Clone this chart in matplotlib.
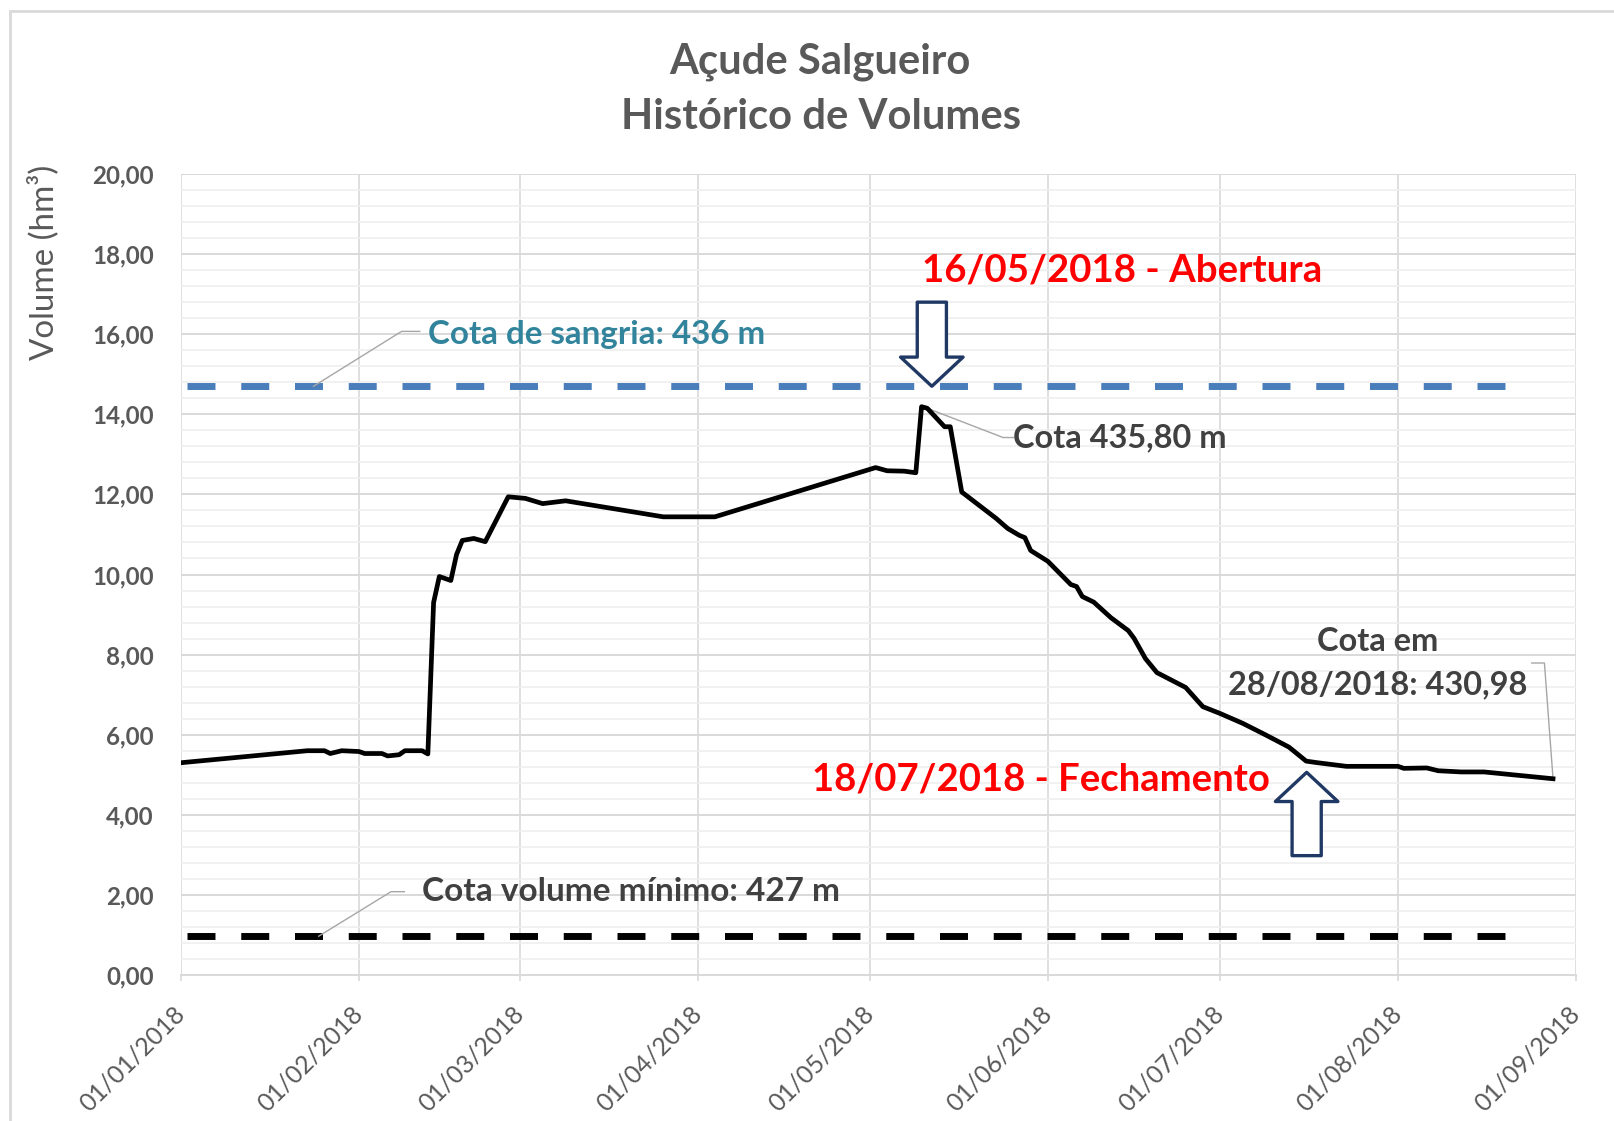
import matplotlib
matplotlib.use('Agg')
import matplotlib.pyplot as plt
import matplotlib.dates as mdates
import pandas as pd
from matplotlib.patches import Rectangle
from matplotlib.ticker import MultipleLocator, FuncFormatter, FixedLocator

plt.rcParams['font.family'] = ['Lato', 'DejaVu Sans']

# ---------------- data ----------------
dates = ['2018-01-01', '2018-01-23', '2018-01-26', '2018-01-27', '2018-01-29',
         '2018-02-01', '2018-02-02', '2018-02-05', '2018-02-06', '2018-02-08',
         '2018-02-09', '2018-02-12', '2018-02-13', '2018-02-14', '2018-02-15',
         '2018-02-17', '2018-02-18', '2018-02-19', '2018-02-21', '2018-02-23',
         '2018-02-27', '2018-03-02', '2018-03-05', '2018-03-09', '2018-03-26',
         '2018-04-04', '2018-05-02', '2018-05-04', '2018-05-07', '2018-05-09',
         '2018-05-10', '2018-05-11', '2018-05-14', '2018-05-15', '2018-05-17',
         '2018-05-21', '2018-05-23', '2018-05-25', '2018-05-27', '2018-05-28',
         '2018-05-29', '2018-06-01', '2018-06-05', '2018-06-06', '2018-06-07',
         '2018-06-09', '2018-06-12', '2018-06-15', '2018-06-16', '2018-06-18',
         '2018-06-20', '2018-06-25', '2018-06-28', '2018-07-01', '2018-07-05',
         '2018-07-09', '2018-07-13', '2018-07-16', '2018-07-18', '2018-07-23',
         '2018-08-01', '2018-08-02', '2018-08-06', '2018-08-08', '2018-08-12',
         '2018-08-16', '2018-08-28']
volumes = [5.30, 5.60, 5.60, 5.53, 5.60,
           5.58, 5.53, 5.53, 5.47, 5.50,
           5.60, 5.60, 5.52, 9.30, 9.95,
           9.85, 10.50, 10.85, 10.90, 10.82,
           11.94, 11.90, 11.77, 11.84, 11.44,
           11.44, 12.67, 12.59, 12.58, 12.54,
           14.19, 14.15, 13.69, 13.69, 12.06,
           11.62, 11.40, 11.15, 10.98, 10.92,
           10.60, 10.33, 9.75, 9.70, 9.45,
           9.31, 8.92, 8.60, 8.41, 7.90,
           7.55, 7.18, 6.70, 6.53, 6.28,
           5.99, 5.69, 5.34, 5.30, 5.21,
           5.21, 5.16, 5.17, 5.10, 5.07,
           5.07, 4.90]

sangria_value = 14.7
sangria_span = ['2018-01-02', '2018-08-19 14:00']
minimo_value = 0.97
minimo_span = ['2018-01-02', '2018-08-19 14:00']

month_ticks = pd.date_range('2018-01-01', '2018-09-01', freq='MS')
x_tick_labels = [d.strftime('%d/%m/%Y') for d in month_ticks]
y_ticks = [0, 2, 4, 6, 8, 10, 12, 14, 16, 18, 20]

title_lines = ['Açude Salgueiro', 'Histórico de Volumes']
y_label = 'Volume (hm³)'

# ---------------- figure ----------------
W, H = 1614, 1121
fig = plt.figure(figsize=(W / 100, H / 100), dpi=100)
ax = fig.add_axes([181 / W, 1 - 975 / H, (1576 - 181) / W, (975 - 174) / H])

def dn(s):
    return mdates.date2num(pd.Timestamp(s))

x = [dn(d) for d in dates]

ax.set_xlim(dn('2018-01-01'), dn('2018-09-01'))
ax.set_ylim(0, 20)

# grid
ax.yaxis.set_major_locator(FixedLocator(y_ticks))
ax.yaxis.set_minor_locator(MultipleLocator(0.4))
ax.xaxis.set_major_locator(FixedLocator([dn(d) for d in month_ticks]))
ax.set_xticklabels(x_tick_labels)
ax.yaxis.set_major_formatter(FuncFormatter(lambda v, p: f'{v:.2f}'.replace('.', ',')))
ax.grid(True, which='major', axis='y', color='#D9D9D9', lw=1.4, zorder=0)
ax.grid(True, which='minor', axis='y', color='#EFEFEF', lw=1.2, zorder=0)
ax.grid(True, which='major', axis='x', color='#D9D9D9', lw=1.2, zorder=0)
ax.set_axisbelow(True)
for s in ['top', 'right', 'left']:
    ax.spines[s].set_visible(False)
ax.spines['bottom'].set_color('#D9D9D9')
ax.spines['bottom'].set_linewidth(1.4)
ax.tick_params(axis='y', which='both', length=0, pad=19.5, labelcolor='#595959')
ax.tick_params(axis='x', which='major', length=4, width=1.2, color='#D9D9D9',
               direction='out', pad=21, labelcolor='#595959')

# lines
ax.plot(x, volumes, color='black', lw=3.4, solid_joinstyle='round', zorder=4)
l1, = ax.plot([dn(sangria_span[0]), dn(sangria_span[1])], [sangria_value] * 2,
              color='#4A7EBB', lw=5, zorder=3)
l1.set_dashes((4.03, 3.71))
l2, = ax.plot([dn(minimo_span[0]), dn(minimo_span[1])], [minimo_value] * 2,
              color='black', lw=5, zorder=3)
l2.set_dashes((4.03, 3.71))

# leader lines
leader_kw = dict(color='#A6A6A6', lw=1.0, zorder=3, clip_on=False)
ax.plot([dn('2018-01-24 02:00'), dn('2018-02-08 10:00'), dn('2018-02-11 14:00')],
        [sangria_value, 16.07, 16.07], **leader_kw)
ax.plot([dn('2018-05-11'), dn('2018-05-24 05:00'), dn('2018-05-26')],
        [14.15, 13.42, 13.42], **leader_kw)
ax.plot([dn('2018-08-28'), dn('2018-08-26 12:00'), dn('2018-08-24 07:00')],
        [4.90, 7.79, 7.79], **leader_kw)
ax.plot([dn('2018-01-25'), dn('2018-02-06 14:00'), dn('2018-02-08 22:00')],
        [minimo_value, 2.08, 2.08], **leader_kw)

# annotation texts
dark = '#404040'
t_sang = ax.text(dn('2018-02-13'), 16.0, 'Cota de sangria: 436 m', color='#31849B',
                 fontweight='bold', ha='left', va='center', fontsize=20, zorder=6)
t_ab = ax.text(dn('2018-05-10'), 17.58, '16/05/2018 - Abertura', color='#FF0000',
               fontweight='bold', ha='left', va='center', fontsize=26, zorder=6)
t_c1 = ax.text(dn('2018-05-26'), 13.42, 'Cota 435,80 m', color=dark,
               fontweight='bold', ha='left', va='center', fontsize=20, zorder=6)
t_em1 = ax.text(dn('2018-07-28 12:00'), 8.33, 'Cota em', color=dark,
                fontweight='bold', ha='center', va='center', fontsize=20, zorder=6)
t_em2 = ax.text(dn('2018-07-28 12:00'), 7.25, '28/08/2018: 430,98', color=dark,
                fontweight='bold', ha='center', va='center', fontsize=20, zorder=6)
t_fe = ax.text(dn('2018-04-21'), 4.88, '18/07/2018 - Fechamento', color='#FF0000',
               fontweight='bold', ha='left', va='center', fontsize=26, zorder=6)
t_min = ax.text(dn('2018-02-12'), 2.08, 'Cota volume mínimo: 427 m', color=dark,
                fontweight='bold', ha='left', va='center', fontsize=20, zorder=6)

# hollow block arrows
arrow_style = 'simple,head_length=2.1,head_width=4.5,tail_width=2.1'
ax.annotate('', xy=(dn('2018-05-11 19:00'), 14.7), xytext=(dn('2018-05-11 19:00'), 16.8),
            arrowprops=dict(arrowstyle=arrow_style, mutation_scale=10, fc='white',
                            ec='#203864', lw=2.4, shrinkA=0, shrinkB=0), zorder=7)
ax.annotate('', xy=(dn('2018-07-16 02:00'), 5.06), xytext=(dn('2018-07-16 02:00'), 2.98),
            arrowprops=dict(arrowstyle=arrow_style, mutation_scale=10, fc='white',
                            ec='#203864', lw=2.4, shrinkA=0, shrinkB=0), zorder=7)

# titles
t_tit1 = fig.text(820 / W, 1 - 62 / H, title_lines[0], ha='center', va='center',
                  fontweight='bold', color='#595959', fontsize=25)
t_tit2 = fig.text(821 / W, 1 - 117 / H, title_lines[1], ha='center', va='center',
                  fontweight='bold', color='#595959', fontsize=25)
t_yl = fig.text(43 / W, 1 - 262 / H, y_label, rotation=90, ha='center', va='center',
                color='#595959', fontsize=18)

# chart border
fig.add_artist(Rectangle((10 / W, -0.05), 1.2, 1 - 11 / H + 0.05, transform=fig.transFigure,
                         fill=False, ec='#D9D9D9', lw=2))

# ---- fit font sizes to the reference footprint ----
r = fig.canvas.get_renderer()

def fit(t, target, vertical=False):
    bb = t.get_window_extent(r)
    cur = bb.height if vertical else bb.width
    t.set_fontsize(t.get_fontsize() * target / cur)

fit(t_tit2, 400)
t_tit1.set_fontsize(t_tit2.get_fontsize())
fit(t_yl, 195, vertical=True)
fit(t_sang, 338)
fit(t_ab, 400)
fit(t_fe, 458)
fit(t_c1, 214)
fit(t_min, 418)
fit(t_em2, 299)
t_em1.set_fontsize(t_em2.get_fontsize())

tmp = fig.text(0, 0, '20,00', fontweight='bold', fontsize=10)
ys = 10 * 62 / tmp.get_window_extent(r).width
tmp.remove()
tmp = fig.text(0, 0, '01/09/2018', fontsize=10)
xs = 10 * 138 / tmp.get_window_extent(r).width
tmp.remove()

for lab in ax.get_yticklabels():
    lab.set_fontweight('bold')
    lab.set_fontsize(ys)
for lab in ax.get_xticklabels():
    lab.set_fontsize(xs)
    lab.set_rotation(45)
    lab.set_ha('right')
    lab.set_va('center')
    lab.set_rotation_mode('anchor')

fig.savefig('out.png', dpi=100)
